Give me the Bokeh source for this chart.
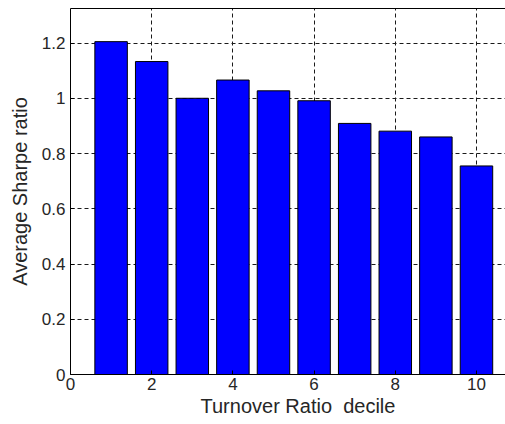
from bokeh.plotting import figure
from bokeh.models import FixedTicker, LinearAxis, Range1d, ColumnDataSource, Title
from bokeh.embed import file_html
from bokeh.resources import INLINE

deciles = [1, 2, 3, 4, 5, 6, 7, 8, 9, 10]
sharpe = [1.205, 1.133, 1.0, 1.066, 1.027, 0.991, 0.909, 0.881, 0.860, 0.755]
x_ticks = [0, 2, 4, 6, 8, 10]
x_tick_labels = ["0", "2", "4", "6", "8", "10"]
y_ticks = [0, 0.2, 0.4, 0.6, 0.8, 1.0, 1.2]
y_tick_labels = ["0", "0.2", "0.4", "0.6", "0.8", "1", "1.2"]
x_label = "Turnover Ratio\u00a0 decile"
y_label = "Average Sharpe ratio"

FONT = "Liberation Sans"
TXT = "#262626"

p = figure(width=505, height=416, output_backend="svg", toolbar_location=None,
           x_range=Range1d(0, 10.715), y_range=Range1d(0, 1.325),
           min_border_left=70, min_border_right=0, min_border_top=8,
           min_border_bottom=0, background_fill_color="white",
           border_fill_color="white",
           outline_line_color=None, outline_line_alpha=0.0, outline_line_width=0)

src = ColumnDataSource(dict(x=deciles, top=sharpe))
p.vbar(x="x", top="top", width=0.8, bottom=0, source=src,
       fill_color="#0000FF", line_color="#000000", line_width=1)

for ax in (p.xaxis[0], p.yaxis[0]):
    ax.major_tick_in = 4
    ax.major_tick_out = 0
    ax.minor_tick_in = 0
    ax.minor_tick_out = 0
    ax.axis_line_color = "black"
    ax.major_tick_line_color = "black"
    ax.major_label_text_font = FONT
    ax.major_label_text_font_size = "17px"
    ax.major_label_text_color = TXT
    ax.axis_label_text_font = FONT
    ax.axis_label_text_font_size = "20px"
    ax.axis_label_text_font_style = "normal"
    ax.axis_label_text_color = TXT

p.xaxis[0].ticker = FixedTicker(ticks=x_ticks)
p.xaxis[0].major_label_overrides = {t: l for t, l in zip(x_ticks, x_tick_labels)}
p.xaxis[0].major_label_standoff = 3

p.yaxis[0].ticker = FixedTicker(ticks=y_ticks)
p.yaxis[0].major_label_overrides = {t: l for t, l in zip(y_ticks, y_tick_labels)}
p.yaxis[0].axis_label = y_label
p.yaxis[0].major_label_standoff = 5
p.yaxis[0].axis_label_standoff = 8

top_axis = LinearAxis(ticker=FixedTicker(ticks=[]), major_tick_in=0, major_tick_out=0,
                      minor_tick_in=0, minor_tick_out=0, axis_line_color="black")
p.add_layout(top_axis, "above")

xt = Title(text=x_label, align="left", offset=130, standoff=0,
           text_font=FONT, text_font_size="20px", text_font_style="normal",
           text_color=TXT)
p.add_layout(xt, "below")

p.xgrid.ticker = FixedTicker(ticks=x_ticks)
p.ygrid.ticker = FixedTicker(ticks=y_ticks)
for g in (p.xgrid[0], p.ygrid[0]):
    g.grid_line_color = "#1a1a1a"
    g.grid_line_dash = "4 3"
    g.grid_line_width = 1

open("out.html", "w").write(file_html(p, INLINE))
